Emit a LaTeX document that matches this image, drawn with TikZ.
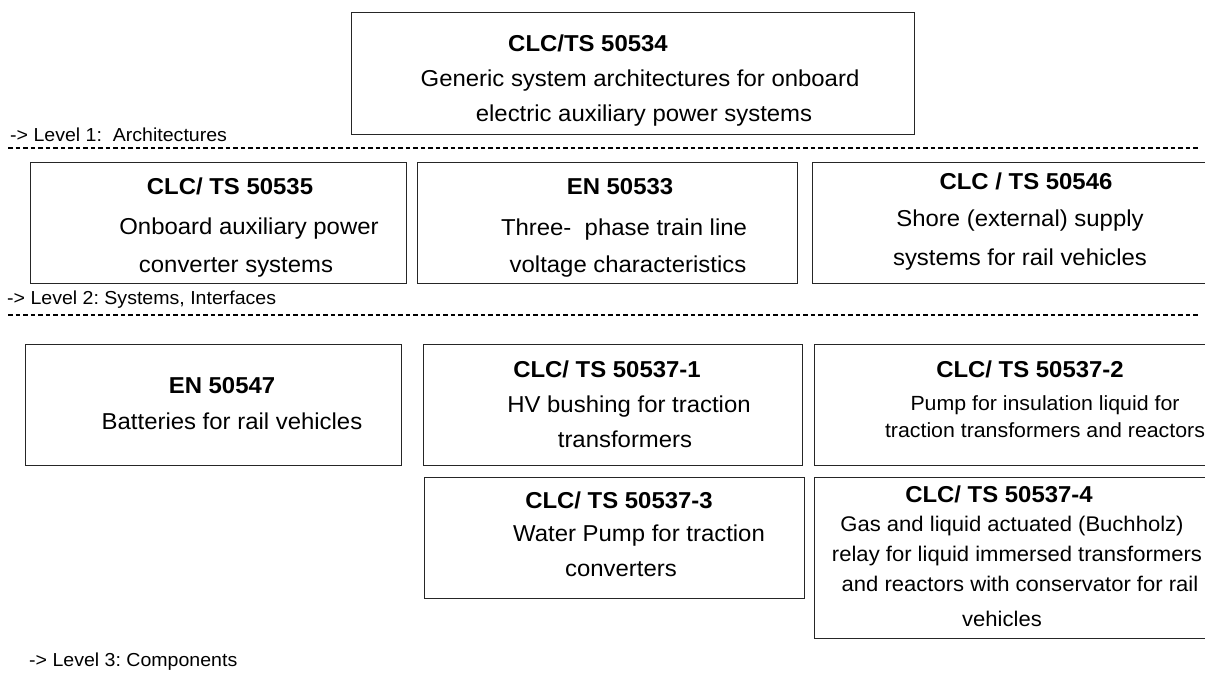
\documentclass[tikz,border=0pt]{standalone}
\usepackage{fontspec}
\setmainfont{Liberation Sans}[FakeStretch=1.04]
\frenchspacing
\begin{document}
\begin{tikzpicture}[x=1pt,y=-1pt,
  box/.style={draw=black!85, line width=0.9pt, inner sep=0pt, anchor=north west},
  hd/.style={font=\fontsize{23}{35}\selectfont\bfseries, anchor=base, inner sep=0pt},
  bd/.style={font=\fontsize{23}{35}\selectfont, anchor=base, inner sep=0pt},
  sm/.style={font=\fontsize{20.5}{30}\selectfont, anchor=base, inner sep=0pt},
  smb/.style={font=\fontsize{21.2}{30}\selectfont, anchor=base, inner sep=0pt},
  lvl/.style={font=\fontsize{18.8}{20}\selectfont, anchor=base west, inner sep=0pt},
  sep/.style={line width=1.6pt, dash pattern=on 4.5pt off 3pt}]
\useasboundingbox (0,0) rectangle (1205,678);
\clip (0,0) rectangle (1205,678);
% boxes
\node[box, minimum width=563pt, minimum height=122pt] (top) at (351,12) {};
\node[box, minimum width=376pt, minimum height=121pt] (a1) at (30,162) {};
\node[box, minimum width=380pt, minimum height=121pt] (a2) at (417,162) {};
\node[box, minimum width=420pt, minimum height=121pt] (a3) at (812,162) {};
\node[box, minimum width=376pt, minimum height=121pt] (b1) at (25,344) {};
\node[box, minimum width=379pt, minimum height=121pt] (b2) at (423,344) {};
\node[box, minimum width=420pt, minimum height=121pt] (b3) at (814,344) {};
\node[box, minimum width=380pt, minimum height=121pt] (c2) at (424,477) {};
\node[box, minimum width=420pt, minimum height=161pt] (c3) at (814,477) {};
% level separators
\coordinate (s1a) at (8,148); \coordinate (s1b) at (1198,148);
\coordinate (s2a) at (8,315); \coordinate (s2b) at (1198,315);
\draw[sep] (s1a) -- (s1b);
\draw[sep] (s2a) -- (s2b);
\node[lvl] (l1) at (10,141) {-> Level 1:~~Architectures};
\node[lvl] (l2) at (7,304) {-> Level 2: Systems, Interfaces};
\node[lvl] (l3) at (29,666) {-> Level 3: Components};
% top box text
\node[hd] (t0) at (588,51) {CLC/TS 50534};
\node[bd] (t1) at (640,86) {Generic system architectures for onboard};
\node[bd] (t2) at (644,121) {electric auxiliary power systems};
% level 1 row
\node[hd] (a1h) at (230,194) {CLC/ TS 50535};
\node[bd] (a1l1) at (249,234) {Onboard auxiliary power};
\node[bd] (a1l2) at (236,272) {converter systems};
\node[hd] (a2h) at (620,194) {EN 50533};
\node[bd] (a2l1) at (624,235) {Three-~~phase train line};
\node[bd] (a2l2) at (628,272) {voltage characteristics};
\node[hd] (a3h) at (1026,189) {CLC / TS 50546};
\node[bd] (a3l1) at (1020,226) {Shore (external) supply};
\node[bd] (a3l2) at (1020,265) {systems for rail vehicles};
% level 3 row 1
\node[hd] (b1h) at (222,393) {EN 50547};
\node[bd] (b1l1) at (232,429) {Batteries for rail vehicles};
\node[hd] (b2h) at (607,377) {CLC/ TS 50537-1};
\node[bd] (b2l1) at (629,412) {HV bushing for traction};
\node[bd] (b2l2) at (625,447) {transformers};
\node[hd] (b3h) at (1030,377) {CLC/ TS 50537-2};
\node[sm] (b3l1) at (1045,410) {Pump for insulation liquid for};
\node[sm] (b3l2) at (1045,437) {traction transformers and reactors};
% level 3 row 2
\node[hd] (c2h) at (619,508) {CLC/ TS 50537-3};
\node[bd] (c2l1) at (639,541) {Water Pump for traction};
\node[bd] (c2l2) at (621,576) {converters};
\node[hd] (c3h) at (999,502) {CLC/ TS 50537-4};
\node[smb] (c3l1) at (1012,531) {Gas and liquid actuated (Buchholz)};
\node[smb] (c3l2) at (1017,561) {relay for liquid immersed transformers};
\node[smb] (c3l3) at (1020,591) {and reactors with conservator for rail};
\node[smb] (c3l4) at (1002,626) {vehicles};
\end{tikzpicture}
\end{document}
